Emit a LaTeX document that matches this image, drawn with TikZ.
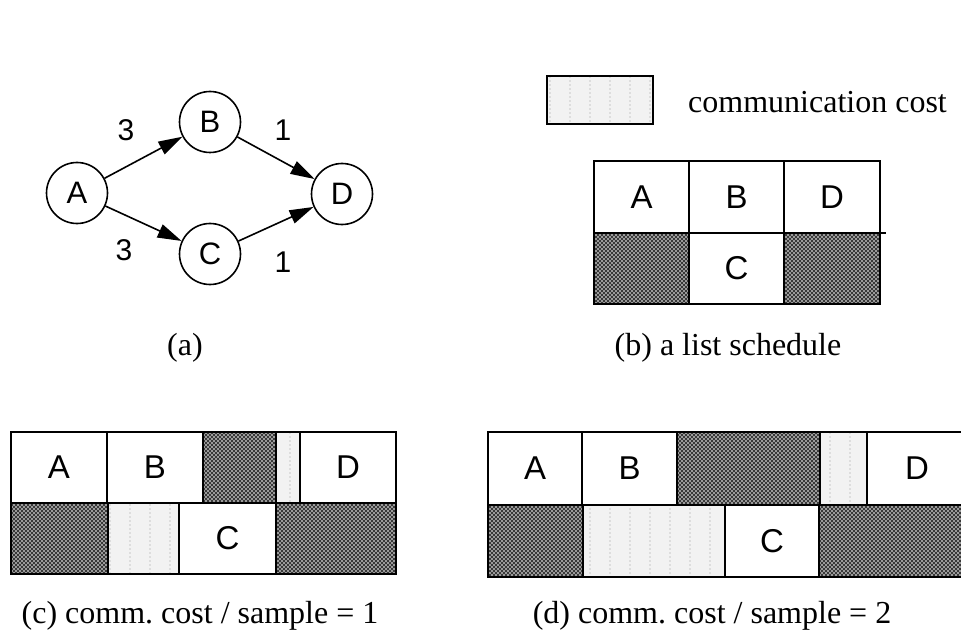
\documentclass[tikz,border=0pt]{standalone}
\usepackage{fontspec}
\setmainfont{Liberation Serif}
\newfontfamily\helv{Liberation Sans}
\usetikzlibrary{arrows.meta,patterns}

% idle time: dark diagonal weave (white dots on dark ground)
\pgfdeclarepatternformonly{idleweave}{\pgfpoint{-1pt}{-1pt}}{\pgfpoint{5pt}{5pt}}{\pgfpoint{4pt}{4pt}}{%
  \pgfpathcircle{\pgfpoint{0pt}{0pt}}{0.8pt}%
  \pgfpathcircle{\pgfpoint{2pt}{2pt}}{0.8pt}%
  \pgfusepath{fill}}
% communication time: faint vertical dotted rules
\pgfdeclarepatternformonly{commdots}{\pgfpoint{-1pt}{-1pt}}{\pgfpoint{21pt}{5pt}}{\pgfpoint{20pt}{4pt}}{%
  \pgfpathcircle{\pgfpoint{10pt}{2pt}}{0.6pt}%
  \pgfusepath{fill}}

\tikzset{
  actor/.style={circle, draw, line width=1.6pt, minimum size=61pt, inner sep=0pt,
    font=\helv\fontsize{31}{31}\selectfont},
  flow/.style={line width=1.6pt, -{Triangle[length=24pt,width=14pt]}},
  weight/.style={font=\helv\fontsize{30}{30}\selectfont, inner sep=0pt},
  cellbox/.style={draw, line width=1.5pt, inner sep=0pt, outer sep=0pt,
    font=\helv\fontsize{33}{33}\selectfont},
  idle/.style={preaction={fill=black!78}, pattern=idleweave, pattern color=white},
  comm/.style={preaction={fill=black!5}, pattern=commdots, pattern color=black!40},
  busy/.style={fill=white},
  caption/.style={font=\fontsize{32}{32}\selectfont, anchor=base, inner sep=0pt},
}

% a box of a schedule: name, x1, y1, x2, y2, style, text
\newcommand\slot[7]{%
  \node[cellbox,#6,minimum width={#4-#2},minimum height={#5-#3}]
    (#1) at ({(#2+#4)/2},{(#3+#5)/2}) {#7};}

\begin{document}
\begin{tikzpicture}[x=1pt,y=-1pt]
\useasboundingbox (0,0) rectangle (961,639);

% (a) the graph
\node[actor] (A) at (77,193) {A};
\node[actor] (B) at (210,122) {B};
\node[actor] (C) at (210,254) {C};
\node[actor] (D) at (342,194) {D};
\draw[flow] (A) -- (B);
\draw[flow] (A) -- (C);
\draw[flow] (B) -- (D);
\draw[flow] (C) -- (D);
\node[weight] (wAB) at (126,130) {3};
\node[weight] (wAC) at (124,250) {3};
\node[weight] (wBD) at (283,130) {1};
\node[weight] (wCD) at (283,262) {1};
\node[caption] (capa) at (185,355) {(a)};

% (b) legend and list schedule
\node[cellbox,comm,minimum width=106pt,minimum height=48pt] (legend) at (600,100) {};
\node[anchor=base west, inner sep=0pt, font=\fontsize{32}{32}\selectfont] (legtext) at (688,113) {communication cost};

\slot{bA}{594}{161}{689}{233}{busy}{A}
\slot{bB}{689}{161}{784}{233}{busy}{B}
\slot{bD}{784}{161}{880}{233}{busy}{D}
\slot{bI1}{594}{233}{689}{304}{idle}{}
\slot{bC}{689}{233}{784}{304}{busy}{C}
\slot{bI2}{784}{233}{880}{304}{idle}{}
\coordinate (bmidend) at (886,233);
\draw[line width=1.5pt] (bD.south west) -- (bmidend);
\node[caption] (capb) at (728,355) {(b) a list schedule};

% (c) communication cost 1 per sample
\slot{cA}{11}{432}{107}{503}{busy}{A}
\slot{cB}{107}{432}{203}{503}{busy}{B}
\slot{cI1}{203}{432}{276}{503}{idle}{}
\slot{cK1}{276}{432}{300}{503}{comm}{}
\slot{cD}{300}{432}{396}{503}{busy}{D}
\slot{cI2}{11}{503}{108}{574}{idle}{}
\slot{cK2}{108}{503}{179}{574}{comm}{}
\slot{cC}{179}{503}{276}{574}{busy}{C}
\slot{cI3}{276}{503}{396}{574}{idle}{}
\node[caption] (capc) at (200,623) {(c) comm.\ cost / sample = 1};

% (d) communication cost 2 per sample
\slot{dA}{488}{432}{582}{505}{busy}{A}
\slot{dB}{582}{432}{677}{505}{busy}{B}
\slot{dI1}{677}{432}{820}{505}{idle}{}
\slot{dK1}{820}{432}{867}{505}{comm}{}
\slot{dD}{867}{432}{967}{505}{busy}{\raisebox{-5pt}{D}}
\slot{dI2}{488}{505}{583}{577}{idle}{}
\slot{dK2}{583}{505}{725}{577}{comm}{}
\slot{dC}{725}{505}{819}{577}{busy}{C}
\slot{dI3}{819}{505}{975}{577}{idle}{}
\node[caption] (capd) at (712,623) {(d) comm.\ cost / sample = 2};

\end{tikzpicture}
\end{document}
